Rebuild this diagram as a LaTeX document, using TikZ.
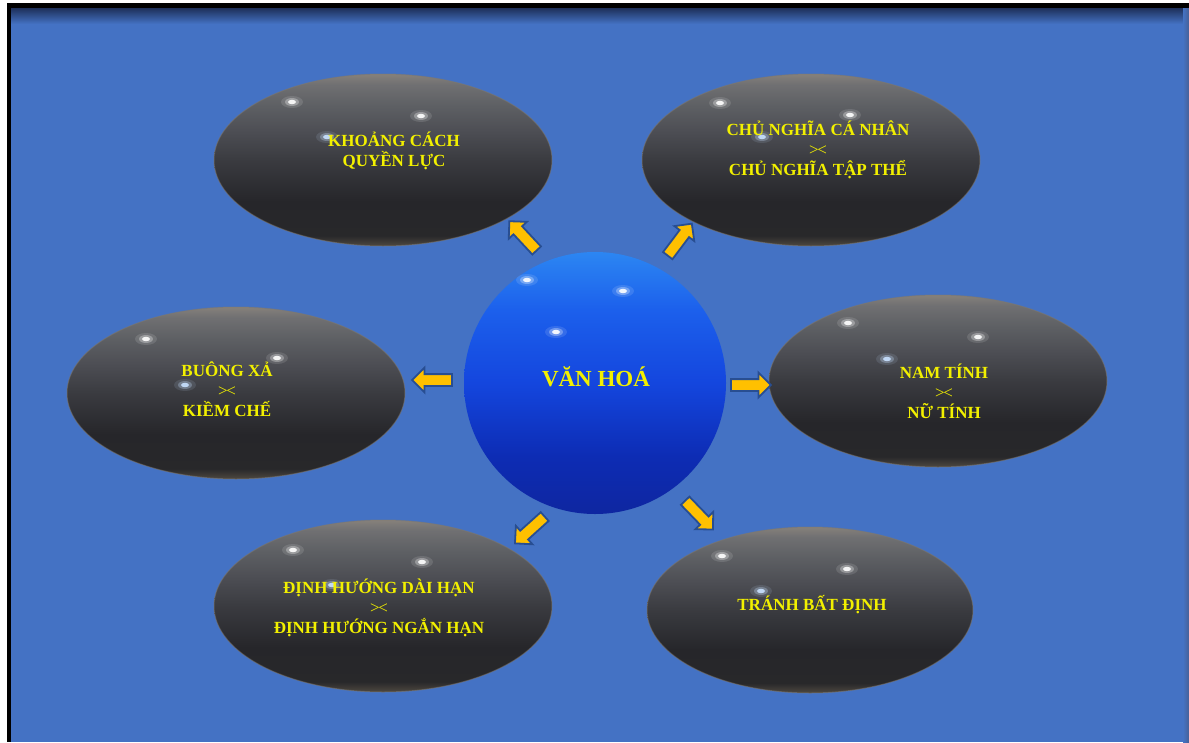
\documentclass[tikz,border=0pt]{standalone}
\usepackage{fontspec}
\setmainfont{Liberation Serif}
\usetikzlibrary{shapes.geometric}
\usetikzlibrary{shapes.arrows}

\definecolor{slide}{RGB}{68,114,196}
\definecolor{slidetop}{RGB}{30,48,90}
\definecolor{slideside}{RGB}{70,96,150}
\definecolor{gold}{RGB}{255,192,0}
\definecolor{goldrim}{RGB}{40,78,146}
\definecolor{caption}{RGB}{242,240,0}
\definecolor{stoneA}{RGB}{78,72,64}
\definecolor{stoneB}{RGB}{40,40,42}
\definecolor{stoneC}{RGB}{38,38,42}
\definecolor{stoneD}{RGB}{58,59,64}
\definecolor{stoneE}{RGB}{76,77,83}
\definecolor{stoneF}{RGB}{94,96,100}
\definecolor{stoneG}{RGB}{112,112,114}
\definecolor{stoneH}{RGB}{134,129,123}
\definecolor{stonerim}{RGB}{128,120,108}
\definecolor{globeA}{RGB}{14,38,160}
\definecolor{globeB}{RGB}{13,44,180}
\definecolor{globeC}{RGB}{20,70,222}
\definecolor{globeD}{RGB}{28,96,236}
\definecolor{globeE}{RGB}{44,134,242}
\definecolor{glintblue}{RGB}{200,225,255}

\pgfdeclareverticalshading{stone}{100bp}{color(0bp)=(stoneA); color(25bp)=(stoneA);
  color(28bp)=(stoneB); color(38bp)=(stoneC); color(50bp)=(stoneD);
  color(58bp)=(stoneE); color(66bp)=(stoneF); color(72bp)=(stoneG);
  color(75bp)=(stoneH); color(100bp)=(stoneH)}
\pgfdeclareverticalshading{globe}{100bp}{color(0bp)=(globeA); color(25bp)=(globeA);
  color(36bp)=(globeB); color(50bp)=(globeC); color(64bp)=(globeD);
  color(75bp)=(globeE); color(100bp)=(globeE)}

\newcommand{\glint}[3][white]{
        \fill[#1, opacity=.12] (#2,#3) ellipse (11pt and 6pt);
        \fill[#1, opacity=.3] (#2,#3) ellipse (7pt and 4pt);
        \fill[#1, opacity=.9] (#2,#3) ellipse (4pt and 2.2pt);
}
\newcommand{\versus}{{\mdseries >\kern-1.5pt<}}

\tikzset{
  pebble/.style={ellipse, shading=stone, draw=stonerim, draw opacity=.5, line width=1pt,
    inner sep=0pt, minimum width=338pt, minimum height=172pt},
  blockarrow/.style={single arrow, draw=goldrim, fill=gold, line width=1.8pt,
    inner sep=5pt, minimum height=40pt, single arrow head extend=6.5pt},
  caption/.style={text=caption, font=\bfseries\fontsize{17}{20}\selectfont, align=center}
}

\begin{document}
\begin{tikzpicture}[x=1pt, y=-1pt]
\useasboundingbox (0,0) rectangle (1189,742);

            % frame and slide
            \fill[white] (0,0) rectangle (1189,742);
            \fill[black] (7,3) rectangle (1189,742);
            \fill[slide] (11,8) rectangle (1189,742);
            \shade[top color=slidetop, bottom color=slide] (11,8) rectangle (1189,24);
            \shade[left color=slide, right color=slideside] (1183,8) rectangle (1189,742);

            % centre
            \node[circle, shading=globe, inner sep=0pt, minimum size=262pt] (culture) at (595,383) {};
            \glint{527}{280}
            \glint{623}{291}
            \glint{556}{332}
            \node[caption, font=\bfseries\fontsize{23}{26}\selectfont] (culture-text) at (596,377) {VĂN HOÁ};

            % six dimensions
            \node[pebble] (power) at (383,160) {};
            \node[pebble] (individual) at (811,160) {};
            \node[pebble] (indulgence) at (236,393) {};
            \node[pebble] (masculinity) at (938,381) {};
            \node[pebble] (longterm) at (383,606) {};
            \node[pebble, minimum width=326pt, minimum height=166pt] (uncertainty) at (810,610) {};

            \glint{292}{102} \glint{421}{116} \glint[glintblue]{327}{137}
            \glint{720}{103} \glint{850}{115} \glint[glintblue]{762}{137}
            \glint{146}{339} \glint{277}{358} \glint[glintblue]{185}{385}
            \glint{848}{323} \glint{978}{337} \glint[glintblue]{887}{359}
            \glint{293}{550} \glint{422}{562} \glint[glintblue]{332}{585}
            \glint{722}{556} \glint{847}{569} \glint[glintblue]{761}{591}

            \node[caption] (power-text) at (394,151) {KHOẢNG CÁCH\\QUYỀN LỰC};
            \node[caption] (individual-text) at (818,150) {CHỦ NGHĨA CÁ NHÂN\\\versus\\CHỦ NGHĨA TẬP THỂ};
            \node[caption] (indulgence-text) at (227,389) {BUÔNG XẢ\\\versus\\KIỀM CHẾ};
            \node[caption] (masculinity-text) at (944,391) {NAM TÍNH\\\versus\\NỮ TÍNH};
            \node[caption] (longterm-text) at (379,608) {ĐỊNH HƯỚNG DÀI HẠN\\\versus\\ĐỊNH HƯỚNG NGẮN HẠN};
            \node[caption] (uncertainty-text) at (812,605) {TRÁNH BẤT ĐỊNH};

            % arrows
            \node[blockarrow, rotate=133] (to-power) at (525,238) {};
            \node[blockarrow, rotate=53] (to-individual) at (678,242) {};
            \node[blockarrow, rotate=180] (to-indulgence) at (435,380) {};
            \node[blockarrow] (to-masculinity) at (748,385) {};
            \node[blockarrow, rotate=222] (to-longterm) at (532,528) {};
            \node[blockarrow, rotate=-46] (to-uncertainty) at (697,513) {};
        \end{tikzpicture}
\end{document}
